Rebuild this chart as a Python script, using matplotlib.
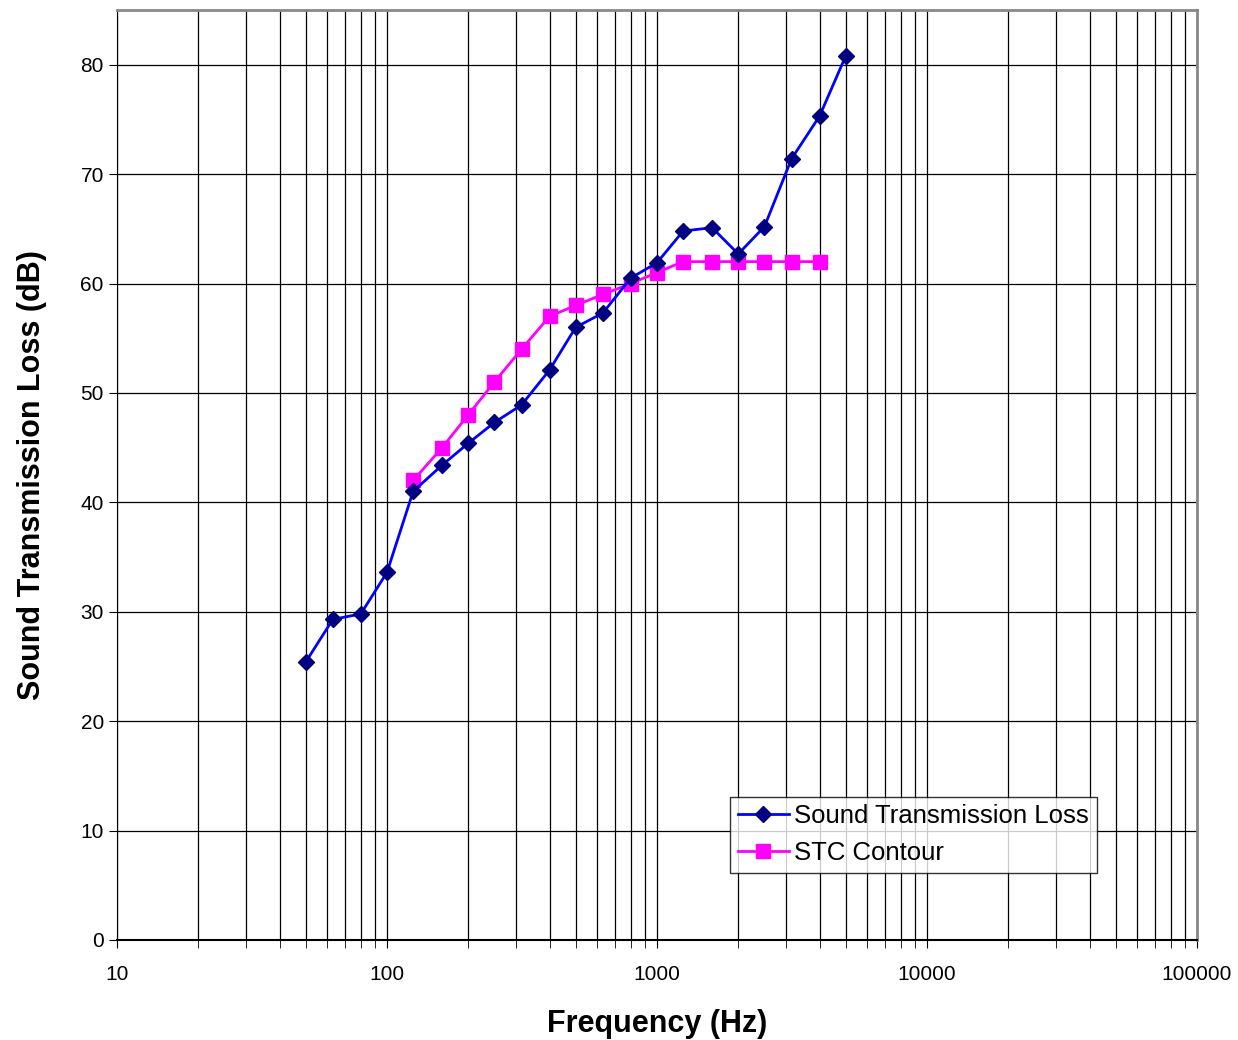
import matplotlib
matplotlib.use("Agg")
import matplotlib.pyplot as plt
from matplotlib.ticker import LogLocator, FixedLocator, MultipleLocator

plt.rcParams['font.family'] = ['Liberation Sans', 'DejaVu Sans']

# third-octave band data
stl_freq = [50, 63, 80, 100, 125, 160, 200, 250, 315, 400, 500, 630, 800,
            1000, 1250, 1600, 2000, 2500, 3150, 4000, 5000]
stl_db = [25.4, 29.3, 29.8, 33.6, 41.0, 43.4, 45.4, 47.3, 48.9, 52.1, 56.0,
          57.3, 60.5, 61.9, 64.8, 65.1, 62.7, 65.2, 71.4, 75.3, 80.8]

stc_freq = [125, 160, 200, 250, 315, 400, 500, 630, 800, 1000, 1250, 1600,
            2000, 2500, 3150, 4000]
stc_db = [42, 45, 48, 51, 54, 57, 58, 59, 60, 61, 62, 62, 62, 62, 62, 62]

fig = plt.figure(figsize=(12.38, 10.40), dpi=100)
ax = fig.add_axes([0.0945, 0.0962, 0.8724, 0.8942])

ax.plot(stl_freq, stl_db, color='#0000FF', lw=2, marker='D', ms=8,
        mfc='#000080', mec='#000080', label='Sound Transmission Loss', zorder=4)
ax.plot(stc_freq, stc_db, color='#FF00FF', lw=2, marker='s', ms=9.5,
        mfc='#FF00FF', mec='#FF00FF', label='STC Contour', zorder=3)

ax.set_xscale('log')
ax.set_xlim(10, 100000)
ax.set_ylim(0, 85)
ax.xaxis.set_major_locator(FixedLocator([10, 100, 1000, 10000, 100000]))
ax.xaxis.set_major_formatter(plt.FuncFormatter(lambda v, p: '%d' % v))
ax.xaxis.set_minor_locator(LogLocator(base=10, subs=range(2, 10), numticks=20))
ax.xaxis.set_minor_formatter(plt.NullFormatter())
ax.yaxis.set_major_locator(MultipleLocator(10))

ax.grid(True, which='major', color='black', lw=0.9)
ax.grid(True, which='minor', axis='x', color='black', lw=0.9)

for side in ['top', 'right']:
    ax.spines[side].set_color('#888888')
    ax.spines[side].set_linewidth(2)
ax.spines['left'].set_color('black')
ax.spines['bottom'].set_color('black')
ax.spines['bottom'].set_linewidth(1.5)

ax.tick_params(axis='both', which='major', direction='out', length=6,
               labelsize=15, colors='black')
ax.tick_params(axis='x', which='minor', direction='out', length=6)
ax.tick_params(axis='x', pad=12)

ax.set_xlabel('Frequency (Hz)', fontsize=22, fontweight='bold', labelpad=18)
ax.set_ylabel('Sound Transmission Loss (dB)', fontsize=22, fontweight='bold',
              labelpad=24)

leg = ax.legend(loc='lower right', bbox_to_anchor=(0.907, 0.072), fontsize=18.5,
                frameon=True, fancybox=False, edgecolor='black',
                borderaxespad=0, borderpad=0.3, handlelength=2.0,
                handletextpad=0.2, labelspacing=0.5)
leg.get_frame().set_linewidth(1)

fig.savefig('out.png', dpi=100)
